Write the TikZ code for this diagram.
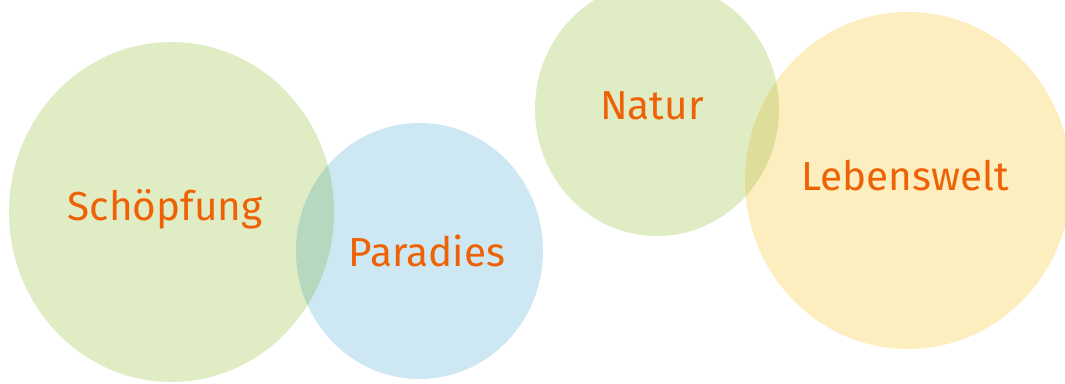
\documentclass[tikz,border=0pt]{standalone}
\usepackage{fontspec}
\setmainfont{Fira Sans}
\definecolor{cgreen}{HTML}{E0ECC4}
\definecolor{cblue}{HTML}{CDE8F3}
\definecolor{cyellow}{HTML}{FDEEC0}
\definecolor{cgb}{HTML}{B5D8BE}
\definecolor{cgy}{HTML}{DFDD9A}
\definecolor{corange}{HTML}{EE6205}
\tikzset{lbl/.style={anchor=base,text=corange,font=\fontsize{40.5}{42}\selectfont,inner sep=0pt}}
\begin{document}
\begin{tikzpicture}[x=1pt,y=-1pt]
\useasboundingbox (0,0) rectangle (1065,383);
\begin{scope}
\clip (0,0) rectangle (1065,383);
\fill[cgreen] (171.5,212) ellipse [x radius=162.5, y radius=170];
\fill[cblue] (419.5,251) ellipse [x radius=123.5, y radius=128];
\begin{scope}
\clip (171.5,212) ellipse [x radius=162.5, y radius=170];
\fill[cgb] (419.5,251) ellipse [x radius=123.5, y radius=128];
\end{scope}
\fill[cgreen] (657,109) ellipse [x radius=122, y radius=127];
\fill[cyellow] (908,180.5) ellipse [x radius=163, y radius=168.5];
\begin{scope}
\clip (657,109) ellipse [x radius=122, y radius=127];
\fill[cgy] (908,180.5) ellipse [x radius=163, y radius=168.5];
\end{scope}
\end{scope}
\node[lbl] (schoepfung) at (165,220) {Schöpfung};
\node[lbl] (paradies) at (427,266) {Paradies};
\node[lbl] (natur) at (652,119) {Natur};
\node[lbl] (lebenswelt) at (905,190) {Lebenswelt};
\end{tikzpicture}
\end{document}
